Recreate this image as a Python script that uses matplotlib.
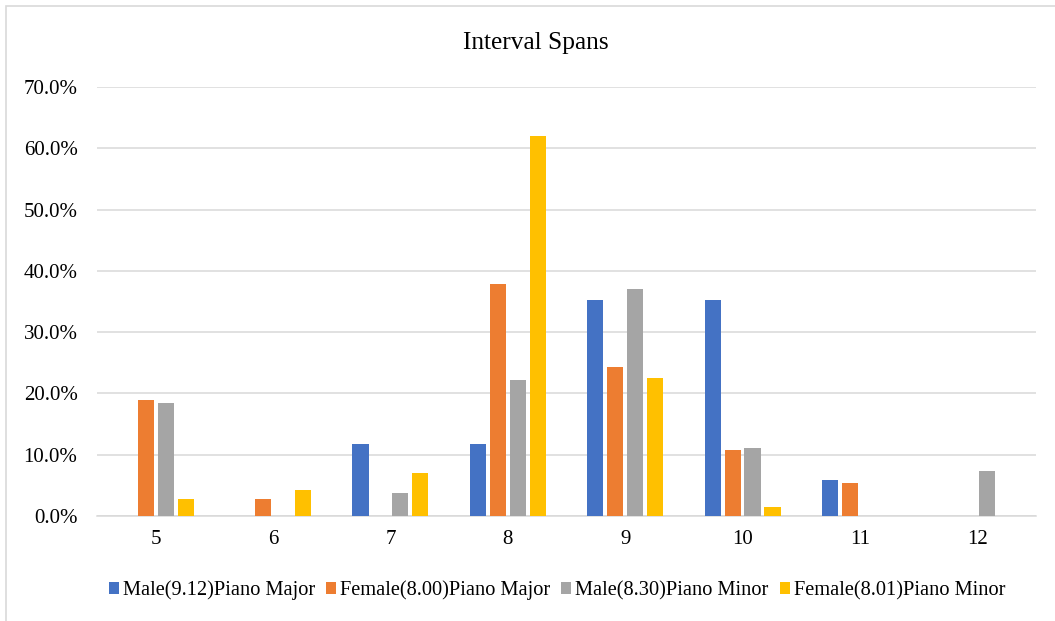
import numpy as np
import matplotlib
matplotlib.use("Agg")
import matplotlib.pyplot as plt
from matplotlib.patches import Rectangle
from matplotlib.ticker import FuncFormatter

plt.rcParams['font.family'] = ['Liberation Serif', 'DejaVu Serif']

# interval span categories
spans = ["5", "6", "7", "8", "9", "10", "11", "12"]

# share of each span (%)
male_major = [0.0, 0.0, 11.8, 11.8, 35.3, 35.3, 5.9, 0.0]
female_major = [18.9, 2.7, 0.0, 37.8, 24.3, 10.8, 5.4, 0.0]
male_minor = [18.5, 0.0, 3.7, 22.2, 37.0, 11.1, 0.0, 7.4]
female_minor = [2.8, 4.2, 7.0, 62.0, 22.5, 1.4, 0.0, 0.0]

series_names = ["Male(9.12)Piano Major", "Female(8.00)Piano Major",
                "Male(8.30)Piano Minor", "Female(8.01)Piano Minor"]
series_vals = [male_major, female_major, male_minor, female_minor]
colors = ["#4472C4", "#ED7D31", "#A5A5A5", "#FFC000"]

fig = plt.figure(figsize=(10.55, 6.21), dpi=100)
ax = fig.add_axes([0.0919, 0.169, 0.8901, 0.691])

x = np.arange(len(spans))
step = 0.17
width = 0.137
for k, (name, vals, c) in enumerate(zip(series_names, series_vals, colors)):
    ax.bar(x + (k - 1.5) * step, np.array(vals) / 100, width=width,
           color=c, label=name, zorder=3)

ax.set_xlim(-0.5, len(spans) - 0.5)
ax.set_ylim(0, 0.7)
ax.set_yticks(np.arange(0, 0.71, 0.1))
ax.yaxis.set_major_formatter(FuncFormatter(lambda v, p: f"{v*100:.1f}%"))
ax.set_xticks(x)
ax.set_xticklabels(spans)
ax.tick_params(axis="y", length=0, pad=14, labelsize=15)
ax.tick_params(axis="x", length=0, pad=10, labelsize=15)

ax.grid(axis="y", color="#D9D9D9", linewidth=1.1, zorder=0)
for s in ["top", "right", "left"]:
    ax.spines[s].set_visible(False)
ax.spines["bottom"].set_color("#D9D9D9")
ax.spines["bottom"].set_linewidth(1.1)

fig.text(0.508, 0.931, "Interval Spans", ha="center", va="center", fontsize=18.3)

fig.legend(loc="center", bbox_to_anchor=(0.528, 0.049), ncol=4, frameon=False,
           fontsize=14.7, handlelength=0.5, handleheight=0.5,
           handletextpad=0.19, columnspacing=0.53)

# outer chart border
fig.patches.append(Rectangle((6 / 1055, -0.05), 1.1, 1.05 - 6 / 621,
                             transform=fig.transFigure, fill=False,
                             edgecolor="#D9D9D9", linewidth=1.2))

fig.savefig("out.png", dpi=100)
